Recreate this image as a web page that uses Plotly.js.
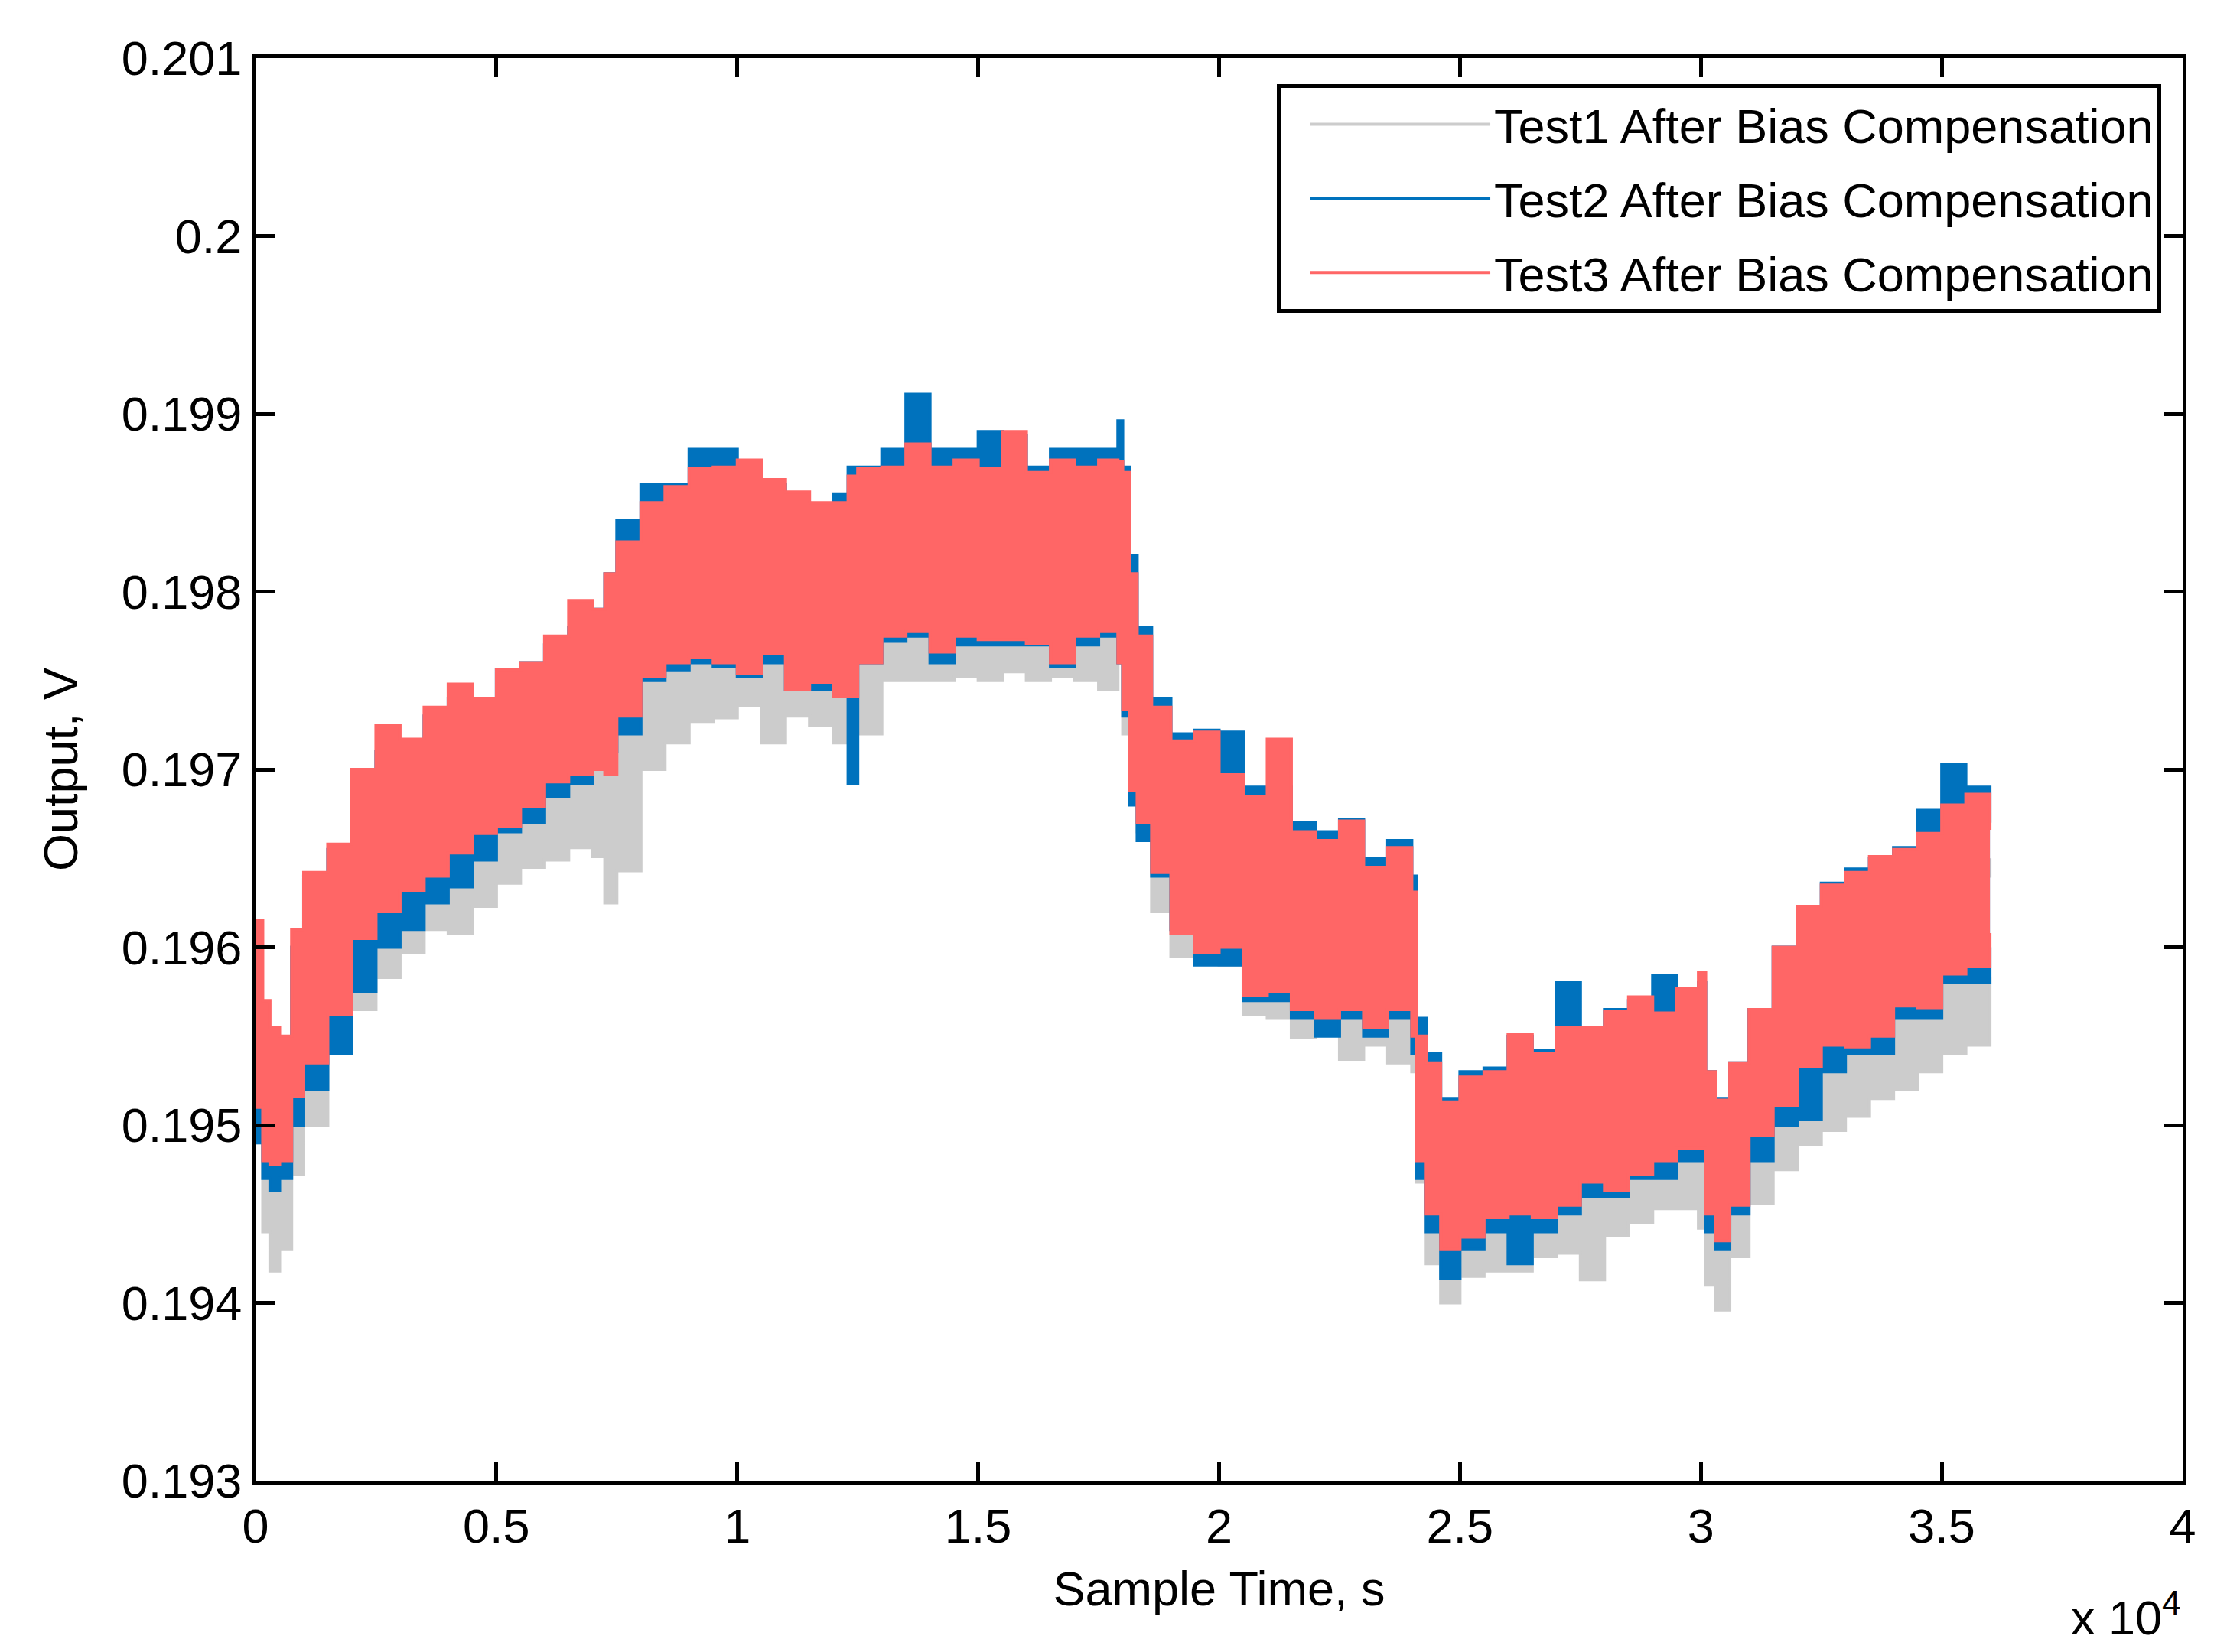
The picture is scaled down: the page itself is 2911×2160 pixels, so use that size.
<!DOCTYPE html>
<html>
<head>
<meta charset="utf-8">
<script src="https://cdn.plot.ly/plotly-3.0.1.min.js"></script>
<style>html,body{margin:0;padding:0;background:#fff;}#chart{width:2911px;height:2160px;}</style>
</head>
<body>
<div id="chart"></div>
<script>
// Sample time, s
var sampleTime = [0,150,300,500,750,1000,1500,2000,2500,3000,3500,4000,4500,5000,5500,6000,6500,7000,7250,7500,8000,8500,9000,9500,10000,10500,11000,11500,12000,12300,12500,13000,13500,14000,14500,15000,15500,16000,16500,17000,17500,17900,18000,18150,18300,18600,19000,19500,20000,20500,21000,21500,22000,22500,23000,23500,24000,24100,24300,24600,25000,25500,26000,26500,27000,27500,28000,28500,29000,29500,29950,30100,30300,30600,31000,31500,32000,32500,33000,33500,34000,34500,35000,35500,36000];

// Test1 (gray) envelope
var test1High = [0.1952,0.1952,0.1951,0.1951,0.1955,0.1957,0.1960,0.1963,0.1965,0.1966,0.1968,0.1969,0.1970,0.1971,0.1972,0.1973,0.1974,0.1975,0.1976,0.1978,0.1980,0.1981,0.1982,0.1982,0.1982,0.1982,0.1981,0.1980,0.1980,0.1981,0.1982,0.1983,0.1983,0.1983,0.1983,0.1983,0.1983,0.1983,0.1983,0.1983,0.1983,0.1983,0.1981,0.1976,0.1972,0.1969,0.1966,0.1965,0.1964,0.1963,0.1963,0.1962,0.1961,0.1961,0.1960,0.1960,0.1959,0.1951,0.1949,0.1948,0.1949,0.1949,0.1950,0.1950,0.1951,0.1951,0.1952,0.1952,0.1952,0.1953,0.1953,0.1949,0.1948,0.1949,0.1952,0.1955,0.1957,0.1958,0.1959,0.1960,0.1961,0.1962,0.1963,0.1964,0.1965];
var test1Low = [0.1949,0.1944,0.19418,0.1943,0.19472,0.1950,0.19542,0.19565,0.19583,0.19597,0.1961,0.19608,0.19623,0.19636,0.19645,0.19649,0.19656,0.19651,0.19625,0.19643,0.1970,0.19715,0.19727,0.19729,0.19736,0.19715,0.1973,0.19725,0.19715,0.1974,0.1972,0.1975,0.1975,0.1975,0.19752,0.1975,0.19755,0.1975,0.19752,0.1975,0.19745,0.1976,0.1972,0.1969,0.19665,0.1962,0.19595,0.19594,0.1959,0.19562,0.1956,0.19549,0.19555,0.19537,0.19545,0.19535,0.1953,0.19468,0.19422,0.1940,0.19415,0.19418,0.19418,0.19426,0.19428,0.19413,0.19438,0.19445,0.19453,0.19453,0.19442,0.1941,0.19396,0.19426,0.19456,0.19475,0.19489,0.19497,0.19505,0.19515,0.1952,0.1953,0.1954,0.19545,0.19583];

// Test2 (blue) envelope
var test2High = [0.1955,0.1955,0.1954,0.1954,0.1960,0.1964,0.19655,0.1968,0.1971,0.1971,0.1973,0.1974,0.1974,0.19756,0.1976,0.1977,0.1978,0.1979,0.1981,0.1984,0.1986,0.1986,0.1988,0.1988,0.19868,0.1986,0.1985,0.19848,0.19855,0.1987,0.1987,0.1988,0.19911,0.1988,0.1988,0.1989,0.19888,0.1987,0.1988,0.1988,0.1988,0.19896,0.1987,0.1982,0.1978,0.1974,0.1972,0.19722,0.19721,0.1969,0.1969,0.1967,0.19665,0.19672,0.1965,0.1966,0.1964,0.1956,0.1954,0.19515,0.1953,0.19532,0.1955,0.19542,0.1958,0.19555,0.19565,0.1957,0.19584,0.19577,0.1958,0.1953,0.19515,0.19535,0.19565,0.1960,0.1962,0.19636,0.19644,0.1965,0.19656,0.19677,0.19703,0.1969,0.1967];
var test2Low = [0.1949,0.1947,0.19463,0.1947,0.1950,0.1952,0.1954,0.19575,0.1960,0.1961,0.19625,0.19634,0.19649,0.19665,0.1967,0.19685,0.19692,0.1970,0.1971,0.1972,0.1975,0.19756,0.1976,0.19758,0.19752,0.1976,0.19745,0.19745,0.19741,0.19692,0.1976,0.19772,0.19775,0.1976,0.1977,0.1977,0.1977,0.1977,0.19758,0.1977,0.19775,0.1976,0.1973,0.1968,0.1966,0.1964,0.1961,0.1959,0.1959,0.1957,0.1957,0.1956,0.1955,0.1956,0.1955,0.1956,0.1954,0.1947,0.1944,0.19414,0.1943,0.1944,0.19422,0.1944,0.1945,0.1946,0.1946,0.1947,0.1947,0.1948,0.1948,0.1944,0.1943,0.1945,0.1948,0.1950,0.19503,0.1953,0.1954,0.1954,0.1956,0.1956,0.1958,0.1958,0.1960];

// Test3 (red) envelope
var test3High = [0.19615,0.1957,0.19555,0.1955,0.1961,0.19642,0.19658,0.1970,0.19725,0.19717,0.19735,0.19748,0.1974,0.19756,0.1976,0.19775,0.19795,0.1979,0.1981,0.19828,0.1985,0.19859,0.19869,0.1987,0.19874,0.19863,0.19856,0.1985,0.1985,0.19865,0.19869,0.1987,0.19883,0.1987,0.19874,0.19869,0.1989,0.19867,0.19874,0.1987,0.19874,0.19873,0.19867,0.1981,0.19775,0.19735,0.19716,0.19721,0.19697,0.19685,0.19717,0.19665,0.1966,0.19671,0.19645,0.19656,0.19631,0.1955,0.19535,0.19513,0.19527,0.1953,0.19551,0.1954,0.19555,0.19555,0.19564,0.19572,0.19563,0.19577,0.19586,0.1953,0.19514,0.19535,0.19565,0.1960,0.19623,0.19635,0.19642,0.19651,0.19655,0.19664,0.1968,0.19686,0.19666];
var test3Low = [0.1951,0.1948,0.19478,0.1948,0.19516,0.19535,0.19562,0.19605,0.1962,0.19632,0.1964,0.19653,0.19664,0.19668,0.19679,0.19693,0.19697,0.1970,0.19697,0.1973,0.19752,0.1976,0.19763,0.1976,0.19754,0.19765,0.19745,0.19749,0.19741,0.19741,0.1976,0.19775,0.19778,0.19766,0.19775,0.19773,0.19773,0.19771,0.1976,0.19775,0.19778,0.1976,0.19734,0.19688,0.1967,0.19642,0.19608,0.19597,0.1960,0.19573,0.19575,0.19565,0.1956,0.19565,0.19555,0.19565,0.1955,0.1948,0.1945,0.1943,0.19437,0.19448,0.1945,0.19448,0.19455,0.19468,0.19463,0.19472,0.1948,0.19487,0.19487,0.1945,0.19435,0.19455,0.19494,0.19511,0.19533,0.19545,0.19544,0.1955,0.19567,0.19566,0.19585,0.19589,0.19608];

var seriesNames = ['Test1 After Bias Compensation','Test2 After Bias Compensation','Test3 After Bias Compensation'];
var seriesColors = ['#CCCCCC','#0072BD','#FF6666'];

var xTickVals = [0,5000,10000,15000,20000,25000,30000,35000,40000];
var xTickText = ['0','0.5','1','1.5','2','2.5','3','3.5','4'];
var yTickVals = [0.193,0.194,0.195,0.196,0.197,0.198,0.199,0.2,0.201];
var yTickText = ['0.193','0.194','0.195','0.196','0.197','0.198','0.199','0.2','0.201'];

var highs = [test1High, test2High, test3High];
var lows = [test1Low, test2Low, test3Low];

var FONT = 'Liberation Sans, Arial, Helvetica, sans-serif';
var FS = 63;
var traces = [];
for (var i = 0; i < 3; i++) {
  traces.push({
    type: 'scatter', mode: 'lines', x: sampleTime, y: highs[i],
    name: seriesNames[i], legendgroup: 'g' + i, showlegend: true,
    line: {color: seriesColors[i], width: 4, shape: 'hv'},
    hoverinfo: 'skip'
  });
  traces.push({
    type: 'scatter', mode: 'lines', x: sampleTime, y: lows[i],
    name: seriesNames[i], legendgroup: 'g' + i, showlegend: false,
    fill: 'tonexty', fillcolor: seriesColors[i],
    line: {color: seriesColors[i], width: 4, shape: 'hv'},
    hoverinfo: 'skip'
  });
}

var axisCommon = {
  showline: true, linecolor: '#000', linewidth: 5, mirror: 'ticks',
  ticks: 'inside', ticklen: 25, tickwidth: 5, tickcolor: '#000',
  showgrid: false, zeroline: false,
  tickfont: {family: FONT, size: FS, color: '#000'},
  tickmode: 'array'
};

var layout = {
  width: 2911, height: 2160,
  margin: {l: 334, r: 58, t: 76, b: 224, pad: 0},
  paper_bgcolor: '#fff', plot_bgcolor: '#fff',
  font: {family: FONT, size: FS, color: '#000'},
  xaxis: Object.assign({}, axisCommon, {
    range: [0, 40000], tickvals: xTickVals, ticktext: xTickText,
    title: {text: 'Sample Time, s', font: {family: FONT, size: FS, color: '#000'}, standoff: 28}
  }),
  yaxis: Object.assign({}, axisCommon, {
    range: [0.193, 0.201], tickvals: yTickVals, ticktext: yTickText,
    title: {text: 'Output, V', font: {family: FONT, size: FS, color: '#000'}, standoff: 38}
  }),
  showlegend: true,
  legend: {
    x: 0.9889, xanchor: 'right', y: 0.9817, yanchor: 'top',
    bgcolor: '#fff', bordercolor: '#000', borderwidth: 5,
    font: {family: FONT, size: FS, color: '#000'},
    itemwidth: 236, tracegroupgap: 12, traceorder: 'grouped',
    indentation: 33
  },
  annotations: [{
    xref: 'paper', yref: 'paper', x: 1, y: -0.094, xanchor: 'right', yanchor: 'middle',
    text: 'x 10<sup>4</sup>', showarrow: false,
    font: {family: FONT, size: FS, color: '#000'}
  }]
};

Plotly.newPlot('chart', traces, layout, {staticPlot: true, displayModeBar: false});
</script>
</body>
</html>
